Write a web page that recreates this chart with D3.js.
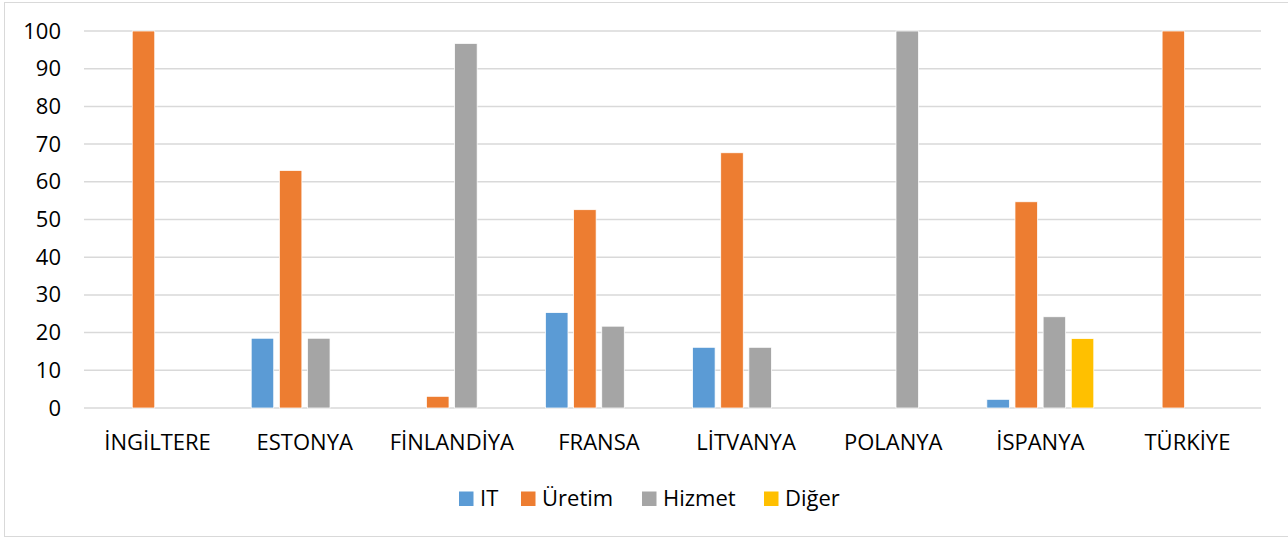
<!DOCTYPE html>
<html>
<head>
<meta charset="utf-8">
<script src="https://cdn.jsdelivr.net/npm/d3@7"></script>
<style>
  body { margin: 0; background: #fff; }
  svg text { font-family: "Open Sans", sans-serif; fill: #000; }
</style>
</head>
<body>
<svg id="chart" width="1288" height="538"></svg>
<script>
const categories = ["İNGİLTERE", "ESTONYA", "FİNLANDİYA", "FRANSA", "LİTVANYA", "POLANYA", "İSPANYA", "TÜRKİYE"];
const seriesNames = ["IT", "Üretim", "Hizmet", "Diğer"];
const itValues = [0, 18.5, 0, 25.3, 16.1, 0, 2.3, 0];
const uretimValues = [100, 63, 3.1, 52.6, 67.7, 0, 54.7, 100];
const hizmetValues = [0, 18.5, 96.7, 21.7, 16.1, 100, 24.2, 0];
const digerValues = [0, 0, 0, 0, 0, 0, 18.4, 0];
const yTicks = [0, 10, 20, 30, 40, 50, 60, 70, 80, 90, 100];
const seriesColors = ["#5B9BD5", "#ED7D31", "#A5A5A5", "#FFC000"];

const allValues = [itValues, uretimValues, hizmetValues, digerValues];

const svg = d3.select("#chart");
const width = 1288, height = 538;
const fontSize = "22px";

// outer frame
svg.append("rect")
  .attr("x", 4.5).attr("y", 2.5)
  .attr("width", width + 10).attr("height", 534)
  .attr("fill", "none").attr("stroke", "#d9d9d9").attr("stroke-width", 1);

const plotLeft = 84, plotRight = 1261, plotTop = 31, plotBottom = 408;

const x0 = d3.scaleBand().domain(categories).range([plotLeft, plotRight])
  .paddingInner(0.273).paddingOuter(0.1365);
const x1 = d3.scaleBand().domain(seriesNames).range([0, x0.bandwidth()]).paddingInner(0.2);
const y = d3.scaleLinear().domain([0, 100]).range([plotBottom, plotTop]);

// gridlines
svg.append("g").selectAll("line")
  .data(yTicks)
  .enter().append("line")
  .attr("x1", plotLeft).attr("x2", plotRight)
  .attr("y1", d => y(d)).attr("y2", d => y(d))
  .attr("stroke", "#d9d9d9").attr("stroke-width", 1.5);

// y axis labels
const yAxis = svg.append("g")
  .attr("transform", "translate(" + plotLeft + ",0)")
  .call(d3.axisLeft(y).tickValues(yTicks).tickSize(0).tickPadding(23));
yAxis.select(".domain").remove();
yAxis.selectAll("text").attr("font-size", fontSize).attr("font-family", "Open Sans, sans-serif").attr("fill", "#000");

// x axis labels
const xAxis = svg.append("g")
  .attr("transform", "translate(0," + plotBottom + ")")
  .call(d3.axisBottom(d3.scaleBand().domain(categories).range([plotLeft, plotRight])).tickSize(0).tickPadding(26));
xAxis.select(".domain").remove();
xAxis.selectAll("text").attr("font-size", fontSize).attr("font-family", "Open Sans, sans-serif").attr("fill", "#000");

// bars
const rows = [];
categories.forEach((c, i) => {
  seriesNames.forEach((s, j) => {
    rows.push({ cat: c, series: s, value: allValues[j][i], color: seriesColors[j] });
  });
});

svg.append("g").selectAll("rect")
  .data(rows.filter(d => d.value > 0))
  .enter().append("rect")
  .attr("x", d => x0(d.cat) + x1(d.series))
  .attr("y", d => y(d.value))
  .attr("width", x1.bandwidth())
  .attr("height", d => plotBottom - y(d.value))
  .attr("fill", d => d.color)
  .attr("stroke", "#fff").attr("stroke-width", 0.75);

// legend
const legendX = [459, 521, 642, 764];
const legend = svg.append("g").selectAll("g")
  .data(seriesNames)
  .enter().append("g")
  .attr("transform", (d, i) => "translate(" + legendX[i] + ",491.5)");
legend.append("rect")
  .attr("width", 14.5).attr("height", 14.5)
  .attr("fill", (d, i) => seriesColors[i]);
legend.append("text")
  .attr("x", 21).attr("y", 14.5)
  .attr("font-size", fontSize)
  .text(d => d);
</script>
</body>
</html>
